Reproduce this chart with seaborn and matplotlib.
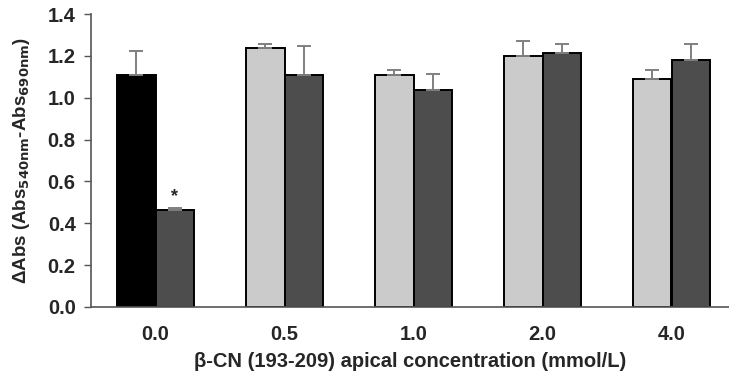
import numpy as np
import pandas as pd
import matplotlib
matplotlib.use("Agg")
from matplotlib import pyplot as plt
import seaborn as sns

concentrations = ["0.0", "0.5", "1.0", "2.0", "4.0"]
series_names = ["first", "second"]
first_values = [1.11, 1.237, 1.108, 1.199, 1.089]
first_err = [0.114, 0.018, 0.024, 0.073, 0.043]
second_values = [0.465, 1.108, 1.037, 1.215, 1.180]
second_err = [0.007, 0.137, 0.078, 0.040, 0.075]
star_group = 0

df = pd.DataFrame({
    "conc": concentrations * 2,
    "series": [series_names[0]] * 5 + [series_names[1]] * 5,
    "value": first_values + second_values,
})

sns.set_style("white")
plt.rcParams["font.family"] = ["Liberation Sans", "DejaVu Sans"]
plt.rcParams["font.weight"] = "bold"
FS = 14.5

fig = plt.figure(figsize=(7.29, 3.79), dpi=100)
ax = fig.add_axes([91 / 729, 72 / 379, 638 / 729, 293 / 379])

sns.barplot(data=df, x="conc", y="value", hue="series", order=concentrations,
            hue_order=series_names, width=0.59, errorbar=None, legend=False,
            palette=["#cbcbcb", "#4d4d4d"], edgecolor="black", linewidth=1.4,
            ax=ax)

# first bar of the control group is black
ax.patches[0].set_facecolor("black")

# upper error bars only
for series_idx, (vals, errs) in enumerate([(first_values, first_err), (second_values, second_err)]):
    bars = ax.patches[series_idx * 5:(series_idx + 1) * 5]
    xs = [b.get_x() + b.get_width() / 2 for b in bars]
    ax.errorbar(xs, vals, yerr=[np.zeros(5), errs], fmt="none", ecolor="#808080",
                elinewidth=1.4, capsize=5, capthick=1.4, zorder=1)

sb = ax.patches[5 + star_group]
ax.text(sb.get_x() + sb.get_width() / 2, second_values[star_group] + second_err[star_group] + 0.015,
        "*", ha="center", va="bottom", fontsize=13, fontweight="bold")

ax.set_xlim(-0.5, -0.5 + 638 / 129)
ax.set_ylim(0, 1.4)
yt = np.arange(0, 1.41, 0.2)
ax.set_yticks(yt)
ax.set_yticklabels(["%.1f" % v for v in yt], fontsize=FS, fontweight="bold")
ax.set_xticks(range(5))
ax.set_xticklabels(concentrations, fontsize=FS, fontweight="bold")
ax.set_xticks(np.arange(-0.5, 4.5, 1), minor=True)
ax.tick_params(axis="x", which="major", length=0, pad=13)
ax.tick_params(axis="x", which="minor", length=6, width=1, color="#555555", direction="out")
ax.tick_params(axis="y", length=5, width=1, color="#555555", direction="out", left=True, pad=6)

for s in ["top", "right"]:
    ax.spines[s].set_visible(False)
for s in ["left", "bottom"]:
    ax.spines[s].set_color("#555555")
    ax.spines[s].set_linewidth(1.2)

ax.set_xlabel("β-CN (193-209) apical concentration (mmol/L)", fontsize=FS, fontweight="bold", labelpad=6)
ax.set_ylabel(r"ΔAbs (Abs$_{\mathbf{540nm}}$-Abs$_{\mathbf{690nm}}$)", fontsize=13.5, fontweight="bold", labelpad=11)

fig.savefig("out.png", dpi=100)
